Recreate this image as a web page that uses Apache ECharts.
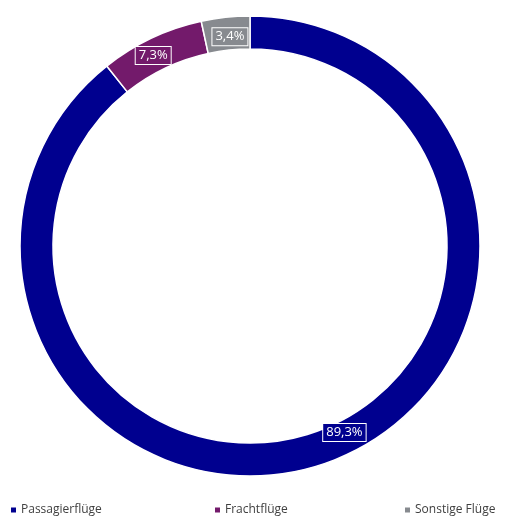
<!DOCTYPE html>
<html><head><meta charset="utf-8">
<script src="https://cdn.jsdelivr.net/npm/echarts@6/dist/echarts.min.js"></script>
<style>html,body{margin:0;padding:0;background:#fff}#c{width:507px;height:517px}</style>
</head><body><div id="c"></div>
<script>
const categories = ['Passagierflüge', 'Frachtflüge', 'Sonstige Flüge'];
const values = [89.3, 7.3, 3.4];
const colors = ['#00008f', '#731a6b', '#878a8f'];

const chart = echarts.init(document.getElementById('c'), null, {renderer: 'canvas'});
const font = '"Open Sans", "Noto Sans", sans-serif';
const legendLefts = [9, 213, 403];
const offsets = [[23, -18], [-4, 5], [3, 6]];

chart.setOption({
  animation: false,
  color: colors,
  legend: categories.map((c, i) => ({
    data: [c],
    left: legendLefts[i],
    top: 504,
    padding: 0,
    itemWidth: 7,
    itemHeight: 7,
    icon: 'rect',
    textStyle: {fontFamily: font, fontSize: 12, color: '#404040', padding: [2, 0, 0, -1]},
    selectedMode: false
  })),
  series: [{
    type: 'pie',
    center: [250, 246],
    radius: [197, 230],
    startAngle: 90,
    clockwise: true,
    avoidLabelOverlap: false,
    itemStyle: {borderColor: '#fff', borderWidth: 1.5},
    label: {
      show: true,
      position: 'inside',
      formatter: p => p.value.toFixed(1).replace('.', ',') + '%',
      color: '#fff',
      fontFamily: font,
      fontSize: 13,
      borderColor: '#fff',
      borderWidth: 1,
      padding: [3, 3, 1, 3]
    },
    labelLine: {show: false},
    emphasis: {disabled: true},
    data: categories.map((c, i) => ({
      name: c,
      value: values[i],
      label: {backgroundColor: colors[i], offset: offsets[i]}
    }))
  }]
});
</script></body></html>
